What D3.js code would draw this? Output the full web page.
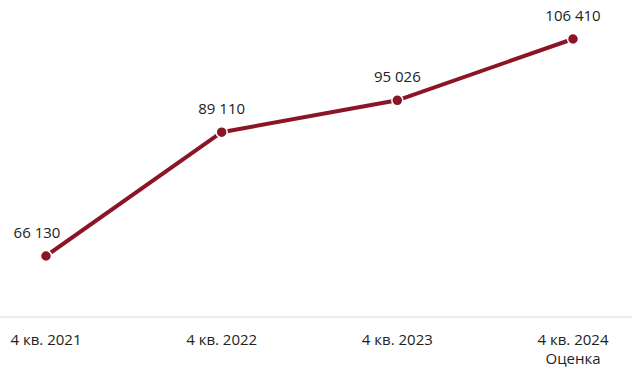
<!DOCTYPE html>
<html>
<head>
<meta charset="utf-8">
<script src="https://cdn.jsdelivr.net/npm/d3@7"></script>
<style>
  body { margin: 0; background: #fff; }
  svg { display: block; font-family: "Open Sans", "Noto Sans", sans-serif; }
</style>
</head>
<body>
<div id="chart"></div>
<script>
// Quarter labels (second line only on the estimate)
const quarters = ['4 кв. 2021', '4 кв. 2022', '4 кв. 2023', '4 кв. 2024'];
const subLabels = ['', '', '', 'Оценка'];
const values = [66130, 89110, 95026, 106410];

const W = 632, H = 377;
const axisY = 317;

const svg = d3.select('#chart').append('svg')
    .attr('width', W)
    .attr('height', H);

const data = quarters.map((q, i) => ({ q, sub: subLabels[i], v: values[i] }));

const x = d3.scalePoint()
    .domain(quarters)
    .range([46, 573]);

const y = d3.scaleLinear()
    .domain([66130, 106410])
    .range([256, 39]);

const fmt = v => d3.format(',')(v).replace(/,/g, ' ');

// baseline
svg.append('line')
    .attr('x1', 0).attr('x2', W)
    .attr('y1', axisY).attr('y2', axisY)
    .attr('stroke', '#d9d9d9')
    .attr('stroke-width', 1);

// x labels
const ticks = svg.selectAll('.tick-label')
    .data(data)
    .enter()
    .append('text')
    .attr('class', 'tick-label')
    .attr('x', d => x(d.q))
    .attr('y', 345)
    .attr('text-anchor', 'middle')
    .style('font-size', '15px')
    .style('fill', '#222');

ticks.append('tspan').text(d => d.q);
ticks.filter(d => d.sub)
    .append('tspan')
    .attr('x', d => x(d.q))
    .attr('dy', 19)
    .text(d => d.sub);

// line
const line = d3.line()
    .x(d => x(d.q))
    .y(d => y(d.v));

svg.append('path')
    .datum(data)
    .attr('d', line)
    .attr('fill', 'none')
    .attr('stroke', '#8b1526')
    .attr('stroke-width', 4);

svg.selectAll('.dot')
    .data(data)
    .enter()
    .append('circle')
    .attr('class', 'dot')
    .attr('cx', d => x(d.q))
    .attr('cy', d => y(d.v))
    .attr('r', 5.5)
    .attr('fill', '#8b1526')
    .attr('stroke', '#fff')
    .attr('stroke-width', 1.5);

// value labels
svg.selectAll('.value-label')
    .data(data)
    .enter()
    .append('text')
    .attr('class', 'value-label')
    .attr('x', (d, i) => x(d.q) + (i === 0 ? -9 : 0))
    .attr('y', d => y(d.v) - 18)
    .attr('text-anchor', 'middle')
    .style('font-size', '15px')
    .style('fill', '#222')
    .text(d => fmt(d.v));
</script>
</body>
</html>
